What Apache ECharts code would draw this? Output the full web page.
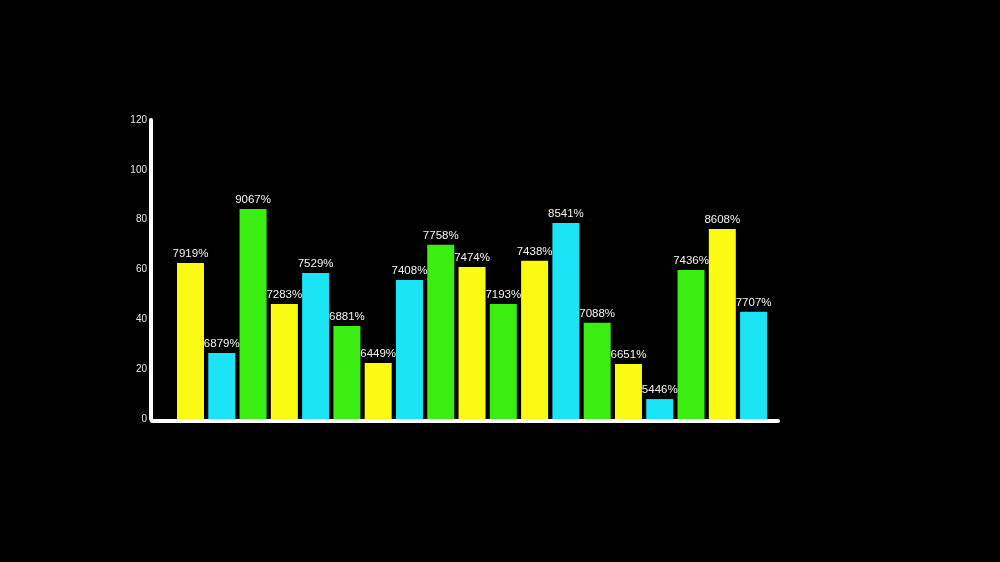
<!DOCTYPE html>
<html>
<head>
<meta charset="utf-8">
<script src="https://cdn.jsdelivr.net/npm/echarts@6/dist/echarts.min.js"></script>
<style>
html,body{margin:0;padding:0;background:#000;}
#chart{width:1000px;height:562px;}
</style>
</head>
<body>
<div id="chart"></div>
<script>
var positions = [0,1,2,3,4,5,6,7,8,9,10,11,12,13,14,15,16,17,18];
var heights = [62.6, 26.5, 84.3, 46.2, 58.6, 37.3, 22.5, 55.8, 69.9, 61.0, 46.2, 63.5, 78.7, 38.6, 22.1, 8.0, 59.8, 76.3, 43.0];
var labels = ['7919%','6879%','9067%','7283%','7529%','6881%','6449%','7408%','7758%','7474%','7193%','7438%','8541%','7088%','6651%','5446%','7436%','8608%','7707%'];
var groups = ['yellow','cyan','green','yellow','cyan','green','yellow','cyan','green','yellow','green','yellow','cyan','green','yellow','cyan','green','yellow','cyan'];
var yTicks = [0, 20, 40, 60, 80, 100, 120];

var palette = {yellow:'#fafa12', cyan:'#1ae4f6', green:'#3aee12'};

var chart = echarts.init(document.getElementById('chart'));
var data = positions.map(function(p, i){
  return {value:[p, heights[i]], itemStyle:{color:palette[groups[i]]}, label:{formatter:labels[i]}};
});
chart.setOption({
  backgroundColor:'#000',
  animation:false,
  grid:{left:152, right:222, top:120, bottom:143},
  xAxis:{
    type:'value', min:-1.23, max:18.78, offset:2,
    axisLine:{show:true, onZero:false, lineStyle:{color:'#fff', width:4}},
    axisTick:{show:false}, axisLabel:{show:false}, splitLine:{show:false}
  },
  yAxis:{
    type:'value', min:yTicks[0], max:yTicks[yTicks.length-1], interval:20, offset:1,
    axisLine:{show:true, onZero:false, lineStyle:{color:'#fff', width:4}},
    axisTick:{show:false},
    axisLabel:{color:'#e6e6e6', fontSize:10, fontFamily:'Liberation Sans, Arial, sans-serif', margin:4},
    splitLine:{show:false}
  },
  series:[{
    type:'bar',
    barWidth:27,
    data:data,
    label:{show:true, position:'top', distance:3, color:'#f2f2f2', fontSize:11.5,
      fontFamily:'Liberation Sans, Arial, sans-serif'}
  }]
});
</script>
</body>
</html>
